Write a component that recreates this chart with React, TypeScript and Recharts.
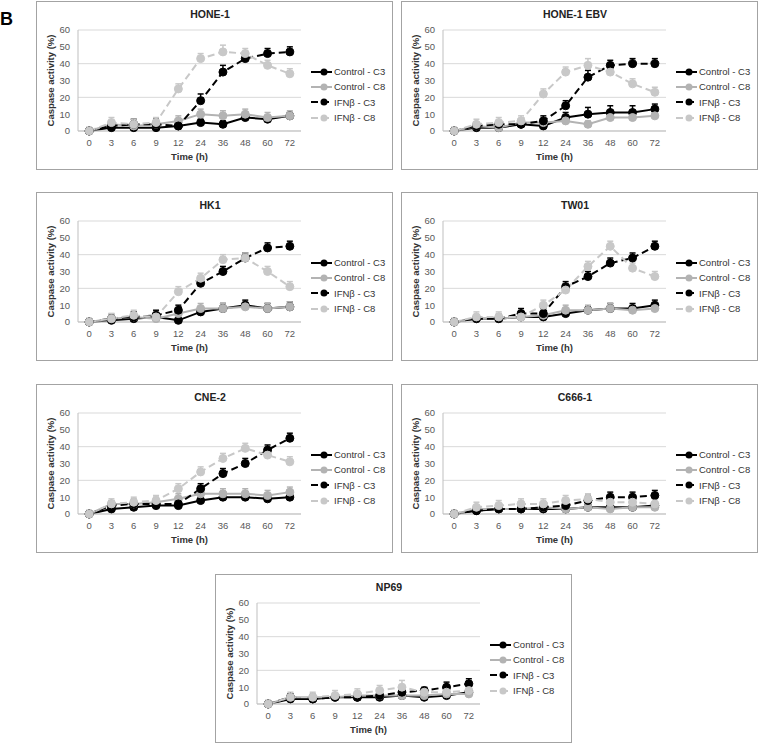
import { LineChart, Line, XAxis, YAxis, CartesianGrid, ErrorBar, Legend } from "recharts";

const TIMES = ["0", "3", "6", "9", "12", "24", "36", "48", "60", "72"];
const Y_TICKS = [0, 10, 20, 30, 40, 50, 60];

// HONE-1
const hone1CtrlC3 = [0, 2, 2, 2, 3, 5, 4, 8, 7, 9];
const hone1CtrlC8 = [0, 4, 3, 4, 6, 10, 9, 10, 8, 9];
const hone1IfnC3 = [0, 3, 4, 4, 3, 18, 35, 43, 46, 47];
const hone1IfnC8 = [0, 5, 4, 5, 25, 43, 47, 46, 39, 34];
const hone1Err = [
  [1, 1, 1, 1, 1, 2, 2, 2, 2, 2],
  [2, 2, 2, 2, 3, 3, 3, 3, 3, 3],
  [2, 3, 3, 3, 2, 4, 4, 3, 3, 3],
  [2, 3, 3, 3, 3, 3, 4, 3, 3, 3],
];

// HONE-1 EBV
const ebvCtrlC3 = [0, 2, 2, 4, 3, 8, 10, 11, 11, 13];
const ebvCtrlC8 = [0, 3, 2, 5, 5, 6, 4, 8, 8, 9];
const ebvIfnC3 = [0, 3, 4, 4, 6, 15, 32, 39, 40, 40];
const ebvIfnC8 = [0, 4, 5, 6, 22, 35, 39, 35, 28, 23];
const ebvErr = [
  [1, 1, 1, 1, 2, 3, 4, 4, 4, 3],
  [2, 2, 2, 2, 2, 2, 2, 2, 2, 2],
  [2, 2, 2, 2, 3, 3, 4, 3, 3, 3],
  [2, 3, 3, 3, 3, 3, 4, 3, 3, 3],
];

// HK1
const hk1CtrlC3 = [0, 1, 2, 3, 1, 6, 8, 10, 8, 9];
const hk1CtrlC8 = [0, 2, 3, 2, 5, 8, 8, 9, 8, 9];
const hk1IfnC3 = [0, 2, 3, 4, 7, 23, 30, 38, 44, 45];
const hk1IfnC8 = [0, 2, 4, 3, 18, 26, 37, 38, 30, 21];
const hk1Err = [
  [1, 1, 1, 1, 1, 2, 3, 3, 3, 3],
  [2, 3, 3, 3, 3, 3, 3, 3, 3, 3],
  [2, 2, 3, 3, 3, 3, 3, 3, 3, 3],
  [2, 3, 3, 3, 3, 3, 3, 3, 3, 3],
];

// TW01
const tw01CtrlC3 = [0, 2, 2, 3, 3, 5, 7, 8, 8, 10];
const tw01CtrlC8 = [0, 2, 2, 3, 4, 7, 7, 8, 7, 8];
const tw01IfnC3 = [0, 2, 2, 5, 5, 21, 27, 35, 38, 45];
const tw01IfnC8 = [0, 3, 3, 3, 10, 19, 33, 45, 32, 27];
const tw01Err = [
  [1, 1, 1, 1, 1, 2, 2, 3, 3, 3],
  [2, 2, 3, 3, 3, 3, 3, 3, 3, 3],
  [2, 2, 2, 3, 3, 3, 3, 3, 3, 3],
  [2, 3, 3, 3, 3, 3, 3, 3, 3, 3],
];

// CNE-2
const cne2CtrlC3 = [0, 3, 4, 5, 5, 8, 10, 10, 9, 10];
const cne2CtrlC8 = [0, 6, 6, 7, 9, 12, 12, 12, 11, 13];
const cne2IfnC3 = [0, 5, 6, 6, 6, 15, 24, 30, 38, 45];
const cne2IfnC8 = [0, 6, 7, 8, 15, 25, 33, 39, 35, 31];
const cne2Err = [
  [1, 1, 1, 1, 1, 1, 1, 1, 1, 1],
  [2, 2, 3, 3, 3, 3, 3, 3, 3, 3],
  [2, 2, 2, 2, 2, 3, 3, 3, 3, 3],
  [2, 3, 3, 3, 3, 3, 3, 3, 3, 3],
];

// C666-1
const c666CtrlC3 = [0, 2, 3, 3, 3, 3, 4, 4, 4, 5];
const c666CtrlC8 = [0, 3, 3, 3, 4, 3, 4, 3, 4, 4];
const c666IfnC3 = [0, 2, 3, 3, 4, 5, 8, 10, 10, 11];
const c666IfnC8 = [0, 4, 5, 6, 6, 8, 9, 7, 7, 6];
const c666Err = [
  [1, 1, 1, 1, 1, 1, 1, 1, 1, 1],
  [2, 2, 2, 2, 2, 2, 2, 2, 2, 2],
  [2, 2, 2, 2, 2, 2, 3, 3, 3, 3],
  [2, 3, 3, 3, 3, 3, 3, 3, 3, 3],
];

// NP69
const np69CtrlC3 = [0, 3, 3, 4, 4, 4, 5, 4, 5, 7];
const np69CtrlC8 = [0, 4, 4, 4, 5, 5, 5, 5, 6, 6];
const np69IfnC3 = [0, 4, 3, 4, 4, 5, 7, 8, 10, 12];
const np69IfnC8 = [0, 4, 4, 5, 6, 8, 10, 7, 7, 8];
const np69Err = [
  [1, 1, 1, 1, 1, 1, 1, 1, 1, 1],
  [2, 2, 2, 2, 2, 2, 3, 2, 2, 2],
  [2, 2, 2, 2, 2, 2, 2, 2, 3, 3],
  [2, 3, 3, 3, 3, 3, 4, 3, 3, 3],
];

const SERIES = [
  { key: "ctrlC3", name: "Control - C3", color: "#000000", dash: undefined },
  { key: "ctrlC8", name: "Control - C8", color: "#b3b3b3", dash: undefined },
  { key: "ifnC3", name: "IFNβ - C3", color: "#000000", dash: "7 4" },
  { key: "ifnC8", name: "IFNβ - C8", color: "#c8c8c8", dash: "7 4" },
];

const PANELS = [
  { title: "HONE-1", left: 36, top: 1, values: [hone1CtrlC3, hone1CtrlC8, hone1IfnC3, hone1IfnC8], errors: hone1Err },
  { title: "HONE-1 EBV", left: 401, top: 1, values: [ebvCtrlC3, ebvCtrlC8, ebvIfnC3, ebvIfnC8], errors: ebvErr },
  { title: "HK1", left: 36, top: 192, values: [hk1CtrlC3, hk1CtrlC8, hk1IfnC3, hk1IfnC8], errors: hk1Err },
  { title: "TW01", left: 401, top: 192, values: [tw01CtrlC3, tw01CtrlC8, tw01IfnC3, tw01IfnC8], errors: tw01Err },
  { title: "CNE-2", left: 36, top: 384, values: [cne2CtrlC3, cne2CtrlC8, cne2IfnC3, cne2IfnC8], errors: cne2Err },
  { title: "C666-1", left: 401, top: 384, values: [c666CtrlC3, c666CtrlC8, c666IfnC3, c666IfnC8], errors: c666Err },
  { title: "NP69", left: 215, top: 574, values: [np69CtrlC3, np69CtrlC8, np69IfnC3, np69IfnC8], errors: np69Err },
];

const FONT = "Arial, 'Liberation Sans', sans-serif";

const LegendBox = () => (
  <div style={{ fontFamily: FONT, fontSize: 9.5, color: "#333" }}>
    {SERIES.map((s) => (
      <div key={s.key} style={{ display: "flex", alignItems: "center", height: 15.3 }}>
        <svg width={21} height={10} style={{ marginRight: 2 }}>
          <line x1={0} y1={5} x2={21} y2={5} stroke={s.color} strokeWidth={2} strokeDasharray={s.dash} />
          <circle cx={13} cy={5} r={3.5} fill={s.color} />
        </svg>
        <span>{s.name}</span>
      </div>
    ))}
  </div>
);

function Panel({ title, left, top, values, errors }: any) {
  const data = TIMES.map((t, i) => {
    const row: any = { t };
    SERIES.forEach((s, k) => {
      row[s.key] = values[k][i];
      row[s.key + "Err"] = [0, errors[k][i]];
    });
    return row;
  });

  return (
    <div
      style={{
        position: "absolute",
        left,
        top,
        width: 355,
        height: 167,
        border: "1px solid #a3a3a3",
        background: "#fff",
      }}
    >
      <div
        style={{
          position: "absolute",
          left: 0,
          width: 346,
          top: 6,
          textAlign: "center",
          fontFamily: FONT,
          fontWeight: "bold",
          fontSize: 10.5,
          color: "#222",
        }}
      >
        {title}
      </div>
      <LineChart width={355} height={167} data={data} margin={{ top: 28, right: 91, bottom: 0, left: 0 }}>
        <CartesianGrid vertical={false} stroke="#d9d9d9" />
        <XAxis
          dataKey="t"
          scale="band"
          interval={0}
          height={38}
          tickLine={false}
          axisLine={{ stroke: "#bfbfbf" }}
          tick={{ fontSize: 9.5, fill: "#595959", fontFamily: FONT }}
          label={{
            value: "Time (h)",
            position: "insideBottom",
            offset: 9,
            style: { fontSize: 9.5, fontWeight: "bold", fill: "#333", fontFamily: FONT },
          }}
        />
        <YAxis
          domain={[0, 60]}
          ticks={Y_TICKS}
          width={41}
          tickLine={false}
          axisLine={{ stroke: "#bfbfbf" }}
          tick={{ fontSize: 9.5, fill: "#595959", fontFamily: FONT }}
          label={{
            value: "Caspase activity (%)",
            angle: -90,
            position: "insideLeft",
            offset: 14,
            style: { textAnchor: "middle", fontSize: 9.5, fontWeight: "bold", fill: "#333", fontFamily: FONT },
          }}
        />
        <Legend
          layout="vertical"
          align="center"
          verticalAlign="middle"
          content={<LegendBox />}
          wrapperStyle={{ left: 274, top: 62, width: 80 }}
        />
        {SERIES.map((s) => (
          <Line
            key={s.key}
            type="linear"
            dataKey={s.key}
            name={s.name}
            stroke={s.color}
            strokeWidth={2}
            strokeDasharray={s.dash}
            dot={{ r: 4, fill: s.color, stroke: s.color, strokeWidth: 1, strokeDasharray: "" }}
            activeDot={false}
            isAnimationActive={false}
          >
            <ErrorBar dataKey={s.key + "Err"} direction="y" width={3} strokeWidth={1.5} stroke={s.color} />
          </Line>
        ))}
      </LineChart>
    </div>
  );
}

export default function App() {
  return (
    <div style={{ position: "absolute", left: 0, top: 0, width: 760, height: 744, background: "#fff" }}>
      <div
        style={{
          position: "absolute",
          left: 0,
          top: 9,
          fontFamily: FONT,
          fontWeight: "bold",
          fontSize: 18,
          color: "#000",
        }}
      >
        B
      </div>
      {PANELS.map((p) => (
        <Panel key={p.title} {...p} />
      ))}
    </div>
  );
}
